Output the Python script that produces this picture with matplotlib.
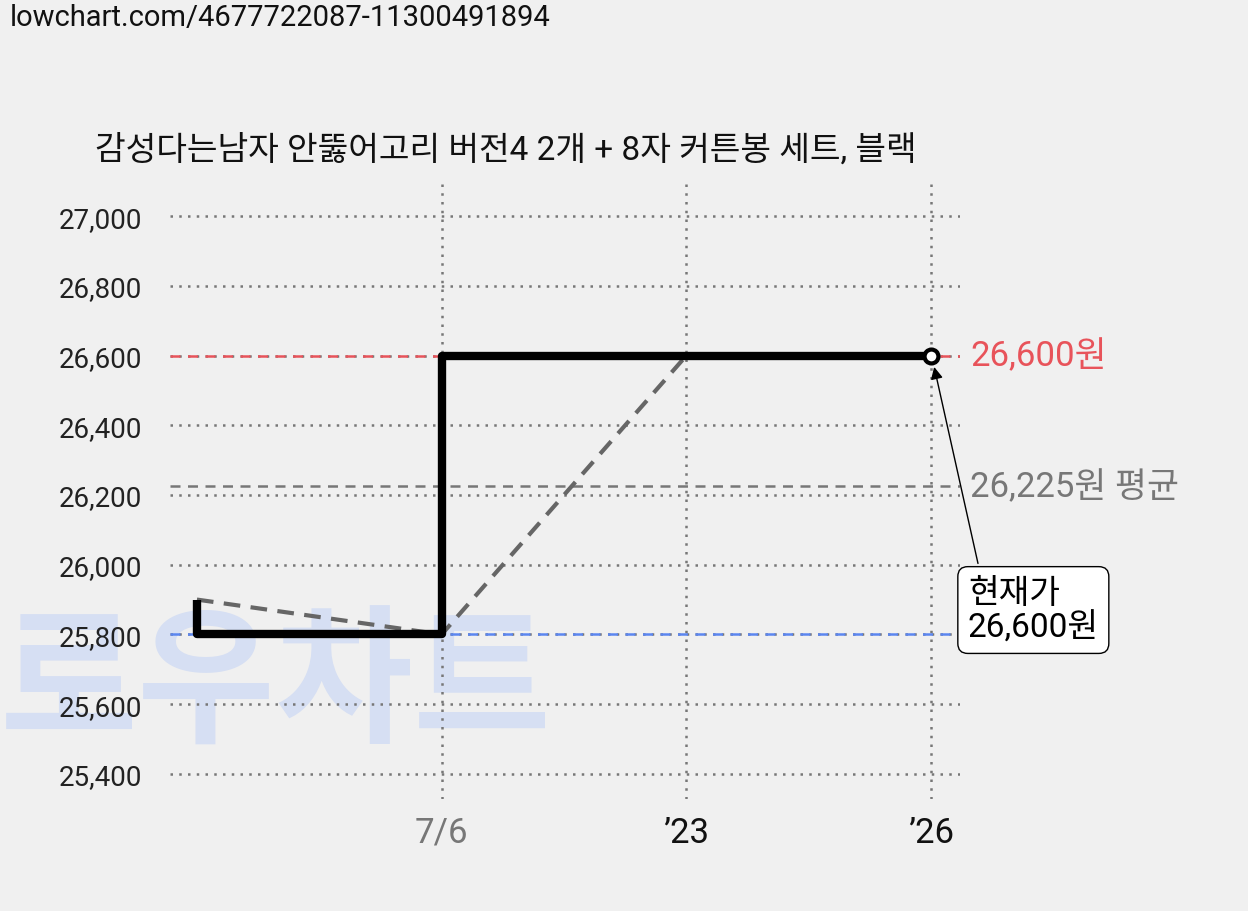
import matplotlib
matplotlib.use("Agg")
import matplotlib.pyplot as plt

plt.rcParams['font.family'] = ['Roboto', 'Noto Sans CJK KR', 'DejaVu Sans']

title = "감성다는남자 안뚫어고리 버전4 2개 + 8자 커튼봉 세트, 블랙"
xlabels = ["7/6", "’23", "’26"]
xlabel_colors = ["#777777", "#111111", "#111111"]
prices = [25900, 25800, 26600, 26600]
step_x = [0, 0, 1, 1, 3]
step_y = [25900, 25800, 25800, 26600, 26600]
yticks = [25400, 25600, 25800, 26000, 26200, 26400, 26600, 26800, 27000]
avg = sum(prices) / len(prices)
cur = prices[-1]
low = min(prices)

W, H = 1248, 912
fig = plt.figure(figsize=(W/100, H/100), dpi=100, facecolor="#f0f0f0")
ax = fig.add_axes([170/W, 1-800/H, 790/W, 615/H])
ax.set_facecolor("#f0f0f0")
for s in ax.spines.values():
    s.set_visible(False)

ax.set_xlim(-0.11, 3.118)
ax.set_ylim(25328, 27092)

# watermark
ax.text(0/W, 1-688/H, "로우차트", fontsize=108, fontweight="bold", color="#d6dff3",
        va="center", ha="left", zorder=0, transform=fig.transFigure, clip_on=False,
        family=['Noto Sans CJK KR'])

for y in yticks:
    ax.axhline(y, color="#777777", ls=(0, (1, 2.5)), lw=1.8, zorder=1)
for x in [1, 2, 3]:
    ax.axvline(x, color="#777777", ls=(0, (1, 2.5)), lw=1.8, zorder=1)

ax.axhline(cur, color="#e8535a", ls=(0, (4, 3)), lw=1.8, zorder=2)
ax.axhline(avg, color="#777777", ls=(0, (4, 3)), lw=1.8, zorder=2)
ax.axhline(low, color="#5b86f0", ls=(0, (4, 3)), lw=1.8, zorder=2)

ax.plot(range(len(prices)), prices, color="#666666", ls=(0, (4, 2.5)), lw=3, zorder=3)
ax.plot(step_x, step_y, color="black", lw=6, zorder=4, solid_capstyle="butt")
ax.plot([3], [cur], marker="o", ms=10, mfc="white", mec="black", mew=3, zorder=5)

ax.set_yticks(yticks)
ax.set_yticklabels([f"{v:,}" for v in yticks], fontsize=20, color="#222222")
ax.set_xticks([1, 2, 3])
ax.set_xticklabels(xlabels, fontsize=25)
for t, c in zip(ax.get_xticklabels(), xlabel_colors):
    t.set_color(c)
ax.tick_params(length=0, pad=12)
ax.tick_params(axis="y", pad=20)

ax.text(3.16, cur, f"{cur:,}원", color="#e8535a", fontsize=25, va="center", ha="left")
ax.text(3.16, avg, f"{avg:,.0f}원 평균", color="#777777", fontsize=25, va="center", ha="left")

ax.annotate(f"현재가\n{cur:,}원", xy=(3.01, cur - 25), xytext=(3.15, 25870),
            fontsize=24, ha="left", va="center", annotation_clip=False, linespacing=1.1,
            bbox=dict(boxstyle="round,pad=0.3", fc="white", ec="black", lw=1),
            arrowprops=dict(arrowstyle="-|>", color="black", lw=1, mutation_scale=18,
                            relpos=(0.1, 1.0)))

fig.text(95/W, 1-150/H, title, fontsize=24, va="center", ha="left", color="#111111")
fig.text(10/W, 1-18/H, "lowchart.com/4677722087-11300491894", fontsize=21,
         va="center", ha="left", color="#111111")

fig.savefig("out.png", dpi=100, facecolor=fig.get_facecolor())
